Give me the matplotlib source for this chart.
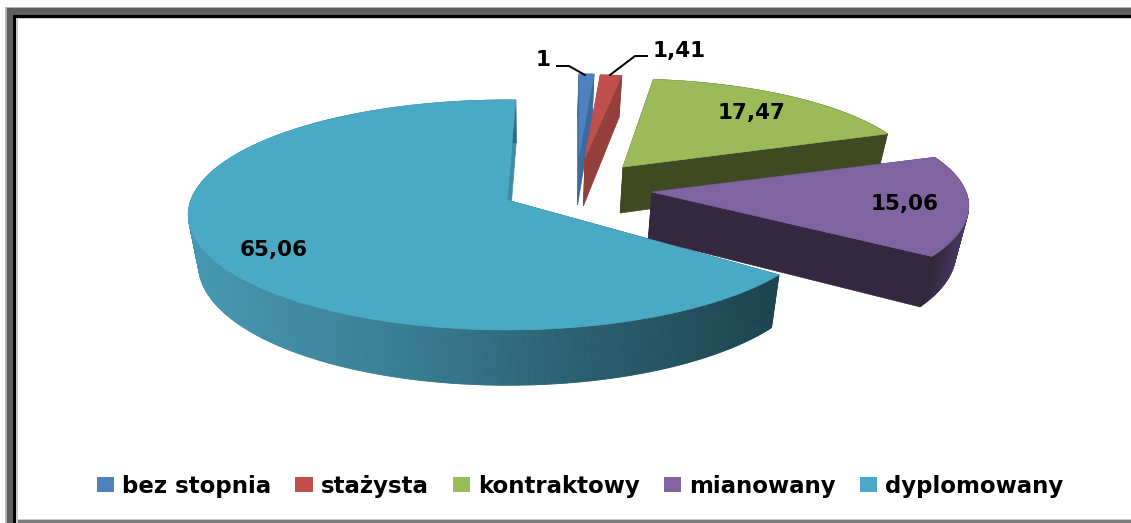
import numpy as np
import matplotlib
matplotlib.use('Agg')
import matplotlib.pyplot as plt
from matplotlib.collections import PolyCollection
from matplotlib.colors import LinearSegmentedColormap
from matplotlib.patches import Patch, Rectangle

plt.rcParams['font.family'] = ['DejaVu Sans']

# dane
labels = ['bez stopnia', 'stażysta', 'kontraktowy', 'mianowany', 'dyplomowany']
values = [1, 1.41, 17.47, 15.06, 65.06]

top_colors = ['#4f81bd', '#c0504d', '#9bbb59', '#8064a2', '#4aa9c4']
wall_colors = ['#3c6a9e', '#943f3c', '#404a22', '#33283f', '#1f4650']
end_wall_colors = ['#3c6a9e', '#943f3c', '#404a22', '#33283f', '#3c8ea6']
rim_colors = [['#3c6a9e', '#3c6a9e'], ['#943f3c', '#943f3c'], ['#404a22', '#404a22'],
              ['#2f2539', '#4a3b63'], ['#4698b2', '#3a7f95', '#2a5f70', '#1d4450']]

# pozycja kazdego wycinka na rysunku: wierzcholek, promienie, grubosc, obrot
apex = [(579, 155), (585, 158), (623, 167), (652, 192), (507, 200)]
rad_x = [270, 275, 295, 314, 316]
rad_y = [91.5, 94, 99.5, 106, 113]
depth = [50, 48, 46, 47, 49]
turn = [0, 0, -2, -1.5, 1.8]
persp = 0.13
vanish_x = 530
shrink = 0.03


def project(i, ang, z=0.0):
    a = np.radians(ang)
    sx, cy = np.sin(a), np.cos(a)
    w = 1 + persp * cy
    x = apex[i][0] + rad_x[i] * sx / w
    y = apex[i][1] - rad_y[i] * cy / w + z * depth[i] * (1 - persp * cy)
    x = x - z * shrink * (x - vanish_x)
    return x, y


def center(i, z=0.0):
    x = apex[i][0] - z * shrink * (apex[i][0] - vanish_x)
    return x, apex[i][1] + z * depth[i]


fig = plt.figure(figsize=(11.31, 5.23), dpi=100)
ax = fig.add_axes([0, 0, 1, 1])
ax.set_xlim(0, 1131)
ax.set_ylim(523, 0)
ax.axis('off')

# ramka
W, H = 1131, 523
for x0, x1, c in [(5, 6.7, '#b4b4b4'), (6.7, 13.3, '#5f5f5f'), (13.3, 16, '#000000'), (16, 17.5, '#c8c8c8')]:
    ax.add_patch(Rectangle((x0, x0 + 1.5), x1 - x0, H, color=c, lw=0, zorder=20))
    ax.add_patch(Rectangle((x0, x0 + 1.5), W, x1 - x0, color=c, lw=0, zorder=20))
ax.add_patch(Rectangle((5, 519), W, 1, color='#c8c8c8', lw=0, zorder=19))
ax.add_patch(Rectangle((5, 520), W, 3, color='#7a7a7a', lw=0, zorder=19))

# wycinki
total = sum(values)
start = 0.0
z = 1
for i, v in enumerate(values):
    a0 = start + turn[i]
    a1 = a0 + v / total * 360
    start += v / total * 360
    angs = np.linspace(a0, a1, max(int(a1 - a0) * 2, 4))
    tx, ty = project(i, angs)
    bx, by = project(i, angs, 1)
    c = center(i)
    cb = center(i, 1)

    # sciany ciecia
    for k, col in ((0, wall_colors[i]), (-1, end_wall_colors[i])):
        ax.fill([c[0], tx[k], bx[k], cb[0]], [c[1], ty[k], by[k], cb[1]],
                color=col, lw=0.5, zorder=z)
    z += 1

    # bok wycinka, kolor zmienia sie z x
    cmap = LinearSegmentedColormap.from_list('rim', rim_colors[i])
    quads, cols = [], []
    xmin, xmax = bx.min(), bx.max()
    for k in range(len(angs) - 1):
        quads.append([(tx[k], ty[k]), (tx[k + 1], ty[k + 1]), (bx[k + 1], by[k + 1]), (bx[k], by[k])])
        cols.append(cmap((bx[k] - xmin) / (xmax - xmin)))
    ax.add_collection(PolyCollection(quads, facecolors=cols, edgecolors=cols, linewidths=0.6, zorder=z))
    z += 1

    ax.fill(np.r_[c[0], tx], np.r_[c[1], ty], color=top_colors[i], lw=0.5, zorder=z)
    z += 1

# etykiety wartosci
val_text = [str(v).replace('.', ',') for v in values]
val_pos = [(543, 60), (653, 51), (751, 113), (905, 204), (274, 250)]
val_ha = ['center', 'left', 'center', 'center', 'center']
for t, p, ha in zip(val_text, val_pos, val_ha):
    ax.text(p[0], p[1], t, ha=ha, va='center', fontsize=15.5, fontweight='bold', color='black', zorder=50)

# linie odniesienia
ax.plot([557, 569, 585], [66, 66, 75], color='black', lw=1.4, zorder=50)
ax.plot([647, 635, 610], [56, 56, 75], color='black', lw=1.4, zorder=50)

# legenda
handles = [Patch(facecolor=c, edgecolor='none') for c in top_colors]
leg = ax.legend(handles, labels, loc='center', bbox_to_anchor=(580 / W, 1 - 486 / H),
                bbox_transform=ax.transAxes, ncol=5, frameon=False,
                prop={'size': 16.5, 'weight': 'bold'}, columnspacing=1.05,
                handlelength=0.75, handleheight=0.6, handletextpad=0.35)
leg.set_zorder(50)

fig.savefig('out.png', dpi=100)
